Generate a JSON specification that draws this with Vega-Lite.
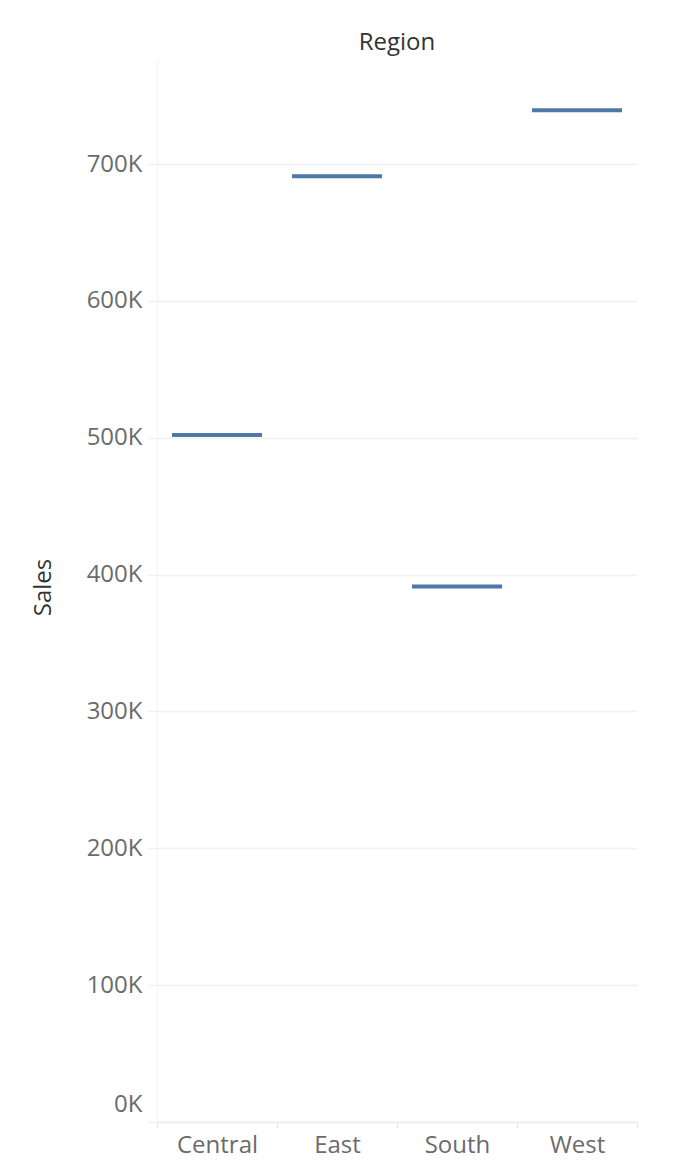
{
  "$schema": "https://vega.github.io/schema/vega-lite/v6.json",
  "width": 480,
  "height": 1062,
  "autosize": {"type": "none"},
  "padding": {"left": 157, "top": 60, "right": 39, "bottom": 53},
  "background": "white",
  "title": {
    "text": "Region",
    "anchor": "middle",
    "frame": "group",
    "font": "Open Sans",
    "fontSize": 24,
    "fontWeight": "normal",
    "color": "#333333",
    "baseline": "alphabetic",
    "offset": -14
  },
  "data": {
    "values": [
      {"Region": "Central", "Sales": 501900},
      {"Region": "East", "Sales": 691000},
      {"Region": "South", "Sales": 391300},
      {"Region": "West", "Sales": 739200}
    ]
  },
  "mark": {"type": "tick", "color": "#4e79a7", "thickness": 4, "size": 90, "opacity": 1},
  "encoding": {
    "x": {
      "field": "Region",
      "type": "nominal",
      "sort": null,
      "scale": {"paddingInner": 0, "paddingOuter": 0},
      "axis": {
        "title": null,
        "labelAngle": 0,
        "labelFont": "Open Sans",
        "labelFontSize": 24,
        "labelColor": "#6b6b6b",
        "labelPadding": 5,
        "tickBand": "extent",
        "tickSize": 6,
        "tickColor": "#e6e6e6",
        "domainColor": "#f0f0f0",
        "domainWidth": 2,
        "grid": false
      }
    },
    "y": {
      "field": "Sales",
      "type": "quantitative",
      "scale": {"domain": [0, 776000], "nice": false},
      "axis": {
        "values": [0, 100000, 200000, 300000, 400000, 500000, 600000, 700000],
        "labelExpr": "(datum.value / 1000) + 'K'",
        "labelFont": "Open Sans",
        "labelFontSize": 24,
        "labelColor": "#6b6b6b",
        "labelPadding": 5,
        "labelFlush": false,
        "labelOffset": {"condition": {"test": "datum.value === 0", "value": -18}, "value": 0},
        "tickSize": 10,
        "tickColor": "#f0f0f0",
        "tickWidth": 1.5,
        "grid": true,
        "gridColor": "#f0f0f0",
        "gridWidth": 1.5,
        "domainColor": "#f4f4f4",
        "title": "Sales",
        "titleFont": "Open Sans",
        "titleFontSize": 24,
        "titleFontWeight": "normal",
        "titleColor": "#333333",
        "titleX": -107,
        "titleY": 527,
        "titleBaseline": "alphabetic",
        "titleAngle": -90
      }
    }
  },
  "config": {"view": {"stroke": null}}
}
